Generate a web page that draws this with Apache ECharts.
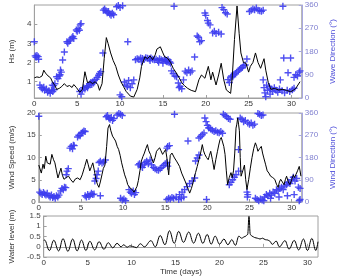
<!DOCTYPE html>
<html lang="en">
<head>
<meta charset="UTF-8">
<title>Waves, wind and water level</title>
<style>
  html, body { margin: 0; padding: 0; background: #fff; }
  #main { width: 345px; height: 277px; }
</style>
</head>
<body>
<div id="main"></div>
<script src="https://cdn.jsdelivr.net/npm/echarts@6/dist/echarts.min.js"></script>
<script>
// all series are [day, value] pairs
var dayTicks = [0, 5, 10, 15, 20, 25, 30];
var hsTicks = [1, 2, 3, 4];

var hsLine = [
  [0,1.2],[0.3,1.25],[0.6,1.22],[0.9,1.3],[1.1,1.6],[1.3,1.45],[1.6,1.3],[1.9,1.2],[2.1,1.0],[2.4,0.8],
  [2.6,0.6],[2.9,0.65],[3.2,0.75],[3.5,0.9],[3.8,0.75],[4.1,0.8],[4.4,0.7],[4.6,0.85],[4.9,0.7],[5.3,0.45],
  [5.6,0.6],[5.9,1.52],[6.2,0.95],[6.5,1.0],[6.8,0.9],[7.1,1.0],[7.4,0.85],[7.6,0.55],[7.9,0.9],[8.15,2.2],
  [8.4,3.3],[8.6,3.0],[8.9,2.5],[9.2,2.1],[9.5,1.8],[9.8,1.35],[10.1,1.0],[10.4,0.75],[10.7,0.5],[10.9,0.4],
  [11.2,0.25],[11.6,0.2],[12.0,0.6],[12.3,1.2],[12.5,1.8],[12.9,2.3],[13.2,2.2],[13.5,2.35],[13.8,2.15],[14.1,2.4],
  [14.3,2.7],[14.5,2.6],[14.7,2.82],[15.0,2.5],[15.2,2.3],[15.5,2.25],[15.9,2.0],[16.2,1.7],[16.5,1.5],[16.9,1.2],
  [17.2,0.95],[17.5,0.8],[17.9,0.65],[18.3,0.55],[18.8,0.48],[19.2,1.1],[19.5,1.35],[19.9,1.18],[20.3,1.8],[20.6,1.1],
  [20.8,1.5],[21.2,0.83],[21.5,1.35],[21.8,1.96],[22.1,1.1],[22.4,0.57],[22.9,0.39],[23.1,1.3],[23.35,3.2],[23.65,4.95],
  [23.9,3.5],[24.1,2.5],[24.4,2.0],[24.7,1.96],[25.0,1.5],[25.2,1.8],[25.5,2.0],[25.8,2.5],[26.1,2.0],[26.4,1.7],
  [26.8,2.2],[27.0,1.6],[27.3,0.95],[27.6,0.6],[28.0,0.65],[28.5,0.57],[29.0,0.6],[29.4,0.55],[29.9,0.48],[30.2,0.55],
  [30.5,0.65],[31.0,1.0]
];

var waveDir = [
  [0.0,218],[0.1,163],[0.2,158],[0.3,165],[0.45,160],[0.5,150],[0.65,50],[0.8,40],[0.95,35],[1.1,42],
  [1.2,30],[1.4,35],[1.55,22],[1.7,28],[1.85,18],[2.0,30],[2.15,25],[2.3,32],[2.1,50],[2.25,48],
  [2.4,55],[2.6,82],[2.75,75],[2.9,85],[3.0,90],[3.05,108],[3.15,100],[3.3,147],[3.5,178],[3.8,218],
  [3.9,212],[4.05,220],[4.2,225],[4.4,233],[4.5,238],[4.6,230],[4.9,263],[5.0,258],[5.1,268],[5.25,262],
  [5.35,283],[5.45,288],[5.3,25],[5.45,15],[5.6,30],[5.75,40],[5.9,35],[6.1,45],[6.2,40],[6.3,48],
  [6.5,55],[6.6,60],[6.7,52],[6.8,62],[6.9,58],[7.0,68],[7.2,72],[7.35,80],[7.5,88],[7.6,95],
  [7.75,102],[8.0,174],[8.05,340],[8.2,345],[8.35,338],[8.5,330],[8.65,335],[8.8,325],[8.95,320],[9.1,328],
  [9.25,322],[9.6,353],[9.8,358],[10.0,350],[10.3,357],[10.9,218],[10.0,12],[10.2,5],[10.5,62],[10.7,50],
  [10.85,45],[11.0,68],[11.2,40],[11.4,55],[11.6,70],[11.8,148],[12.0,152],[12.2,150],[12.4,155],[12.6,153],
  [12.8,150],[13.0,156],[13.2,154],[13.4,152],[13.6,155],[13.8,150],[14.0,148],[14.2,150],[14.4,145],[14.6,152],
  [14.8,148],[15.0,145],[15.2,150],[15.4,142],[15.6,148],[15.8,140],[12.5,140],[13.5,145],[14.5,138],[15.0,135],
  [15.3,145],[15.5,140],[15.7,138],[15.9,135],[16.0,105],[16.2,95],[16.4,85],[16.6,82],[16.3,355],[16.8,58],
  [17.0,45],[17.2,36],[16.9,40],[17.4,70],[17.6,104],[17.8,98],[18.0,108],[18.2,100],[18.4,105],[18.7,159],
  [19.0,240],[19.15,235],[19.3,218],[19.5,222],[19.9,329],[20.0,320],[20.2,300],[20.3,290],[20.5,283],[20.8,252],
  [21.0,258],[21.2,250],[21.5,255],[21.8,248],[21.9,350],[22.1,342],[22.3,330],[22.5,325],[22.6,71],[22.75,60],
  [22.9,78],[23.0,85],[23.15,82],[23.3,90],[23.45,95],[23.6,100],[23.8,105],[23.95,110],[24.1,115],[24.25,118],
  [24.4,125],[24.6,128],[24.8,151],[25.1,335],[25.3,340],[25.5,345],[25.7,342],[25.9,348],[26.1,340],[26.3,338],
  [26.5,336],[26.7,340],[26.7,70],[26.8,40],[26.9,20],[27.0,5],[27.1,50],[27.2,30],[27.4,45],[27.5,15],
  [27.6,35],[27.8,25],[28.0,40],[28.2,30],[28.4,22],[28.6,35],[28.9,28],[29.2,20],[29.5,30],[29.8,25],
  [30.1,32],[30.3,38],[28.7,70],[29.1,155],[29.0,355],[29.6,98],[29.9,155],[30.3,80],[30.5,90],[30.7,85],
  [30.9,100],[31.0,105]
];

var windSpeed = [
  [0,8.3],[0.3,6.5],[0.5,8.5],[0.65,7.5],[0.83,10.3],[1.0,8.8],[1.19,9.2],[1.35,8.5],[1.55,10.7],[1.75,9.5],
  [1.91,8.8],[2.1,7.0],[2.27,5.4],[2.45,6.5],[2.63,7.6],[2.8,6.0],[2.99,5.1],[3.25,5.5],[3.53,5.8],[3.8,5.0],
  [4.07,4.4],[4.35,5.2],[4.61,5.4],[4.9,5.0],[5.15,6.1],[5.45,8.0],[5.69,9.6],[5.85,8.5],[6.05,7.0],[6.25,8.0],
  [6.41,8.8],[6.6,7.0],[6.77,5.1],[6.95,4.0],[7.13,3.3],[7.3,4.5],[7.49,6.1],[7.65,7.5],[7.85,8.3],[8.05,12.5],
  [8.21,16.6],[8.39,17.4],[8.55,16.0],[8.75,14.8],[8.95,14.2],[9.11,13.7],[9.3,12.5],[9.47,11.8],[9.65,10.5],[9.83,8.8],
  [10.0,7.5],[10.19,6.1],[10.4,5.0],[10.55,3.9],[10.8,3.2],[11.09,2.8],[11.3,2.2],[11.45,2.4],[11.65,3.5],[11.81,4.8],
  [12.0,7.0],[12.17,9.2],[12.35,10.2],[12.53,11.0],[12.7,12.0],[12.89,12.9],[13.05,11.5],[13.25,10.7],[13.45,9.5],[13.6,8.8],
  [13.8,10.0],[13.97,11.4],[14.15,11.0],[14.33,12.2],[14.5,11.5],[14.69,10.7],[14.85,11.2],[15.05,11.8],[15.2,9.9],[15.41,6.1],
  [15.6,10.5],[15.8,11.0],[16.1,9.9],[16.4,9.0],[16.7,8.0],[16.95,6.5],[17.2,5.4],[17.4,4.5],[17.6,3.5],[17.75,2.8],
  [17.9,2.0],[18.1,3.0],[18.3,4.3],[18.45,5.5],[18.6,6.6],[18.8,8.0],[19.0,9.5],[19.2,11.0],[19.4,12.9],[19.55,11.5],
  [19.7,10.7],[19.9,10.0],[20.1,9.5],[20.25,10.5],[20.4,11.4],[20.6,9.5],[20.8,7.3],[21.0,9.5],[21.2,11.4],[21.35,12.8],
  [21.5,14.0],[21.65,14.5],[21.8,14.4],[21.95,12.5],[22.1,10.7],[22.25,7.0],[22.4,3.9],[22.6,5.5],[22.8,6.6],[22.95,5.5],
  [23.1,7.0],[23.25,11.0],[23.4,16.6],[23.5,17.5],[23.6,18.9],[23.7,17.5],[23.8,16.0],[23.9,10.0],[24.0,5.8],[24.2,7.0],
  [24.4,8.3],[24.55,5.0],[24.7,2.8],[24.9,5.0],[25.1,7.6],[25.3,10.0],[25.5,12.0],[25.7,13.3],[25.85,12.5],[26.0,11.4],
  [26.2,12.0],[26.4,12.5],[26.55,11.0],[26.7,9.9],[26.9,8.5],[27.1,7.0],[27.3,6.5],[27.5,5.8],[27.75,5.5],[28.0,5.1],
  [28.2,4.0],[28.4,3.3],[28.55,4.5],[28.7,5.1],[28.9,4.5],[29.1,3.9],[29.25,5.0],[29.4,5.8],[29.6,4.5],[29.8,3.9],
  [30.0,5.0],[30.2,6.1],[30.35,5.5],[30.5,5.4],[30.7,7.0],[30.9,8.0],[31.0,7.0],[31.1,5.8]
];

var windDir = [
  [0,347],[0.1,40],[0.25,35],[0.4,30],[0.55,38],[0.7,32],[0.85,28],[1.0,35],[1.2,25],[1.35,20],
  [1.5,28],[1.65,18],[1.8,22],[1.95,15],[2.1,25],[2.25,20],[2.4,28],[2.6,45],[2.75,55],[2.9,50],
  [3.05,60],[3.2,58],[3.25,110],[3.35,125],[3.5,135],[3.7,218],[3.85,225],[4.0,215],[4.1,230],[4.2,228],
  [4.6,263],[4.75,270],[4.9,268],[5.05,278],[5.2,282],[5.35,287],[5.5,285],[5.5,25],[5.65,20],[5.8,30],
  [5.95,22],[6.1,28],[6.25,35],[6.4,30],[6.55,32],[6.65,85],[6.8,95],[6.9,110],[7.05,125],[7.3,25],
  [7.15,160],[7.3,165],[7.5,158],[7.7,162],[7.9,170],[8.0,345],[8.15,350],[8.3,340],[8.45,335],[8.6,342],
  [8.75,330],[8.9,338],[9.3,352],[9.5,358],[9.7,355],[9.9,350],[9.7,15],[9.9,8],[10.1,12],[10.3,5],
  [10.7,50],[10.85,40],[11.0,35],[11.2,45],[11.35,30],[11.5,38],[11.8,150],[11.95,155],[12.1,145],[12.3,140],
  [12.5,150],[12.6,160],[12.8,165],[13.0,155],[13.2,170],[13.4,150],[13.6,140],[13.8,135],[14.0,130],[14.2,128],
  [14.4,135],[14.6,140],[14.8,148],[15.0,155],[15.2,160],[15.3,145],[15.2,218],[15.3,225],[15.5,228],[15.2,10],
  [15.4,15],[15.6,12],[15.8,18],[16.0,15],[16.3,20],[16.6,10],[16.9,15],[17.2,20],[16.1,355],[16.7,30],
  [17.0,40],[17.3,50],[17.6,62],[17.9,75],[18.2,85],[18.5,97],[17.7,247],[18.6,166],[18.8,178],[19.0,190],
  [19.0,259],[19.2,265],[19.4,272],[19.6,279],[19.7,340],[19.85,325],[20.0,310],[20.15,300],[20.2,300],[20.4,295],
  [20.6,290],[20.8,285],[21.0,288],[21.2,282],[21.4,280],[21.6,285],[21.8,278],[21.9,355],[22.1,350],[22.3,345],
  [22.5,338],[22.7,335],[19.9,10],[22.6,70],[22.8,80],[23.0,90],[23.2,100],[23.4,110],[23.7,212],[23.7,125],
  [23.9,340],[24.1,335],[24.3,325],[24.5,330],[24.8,320],[25.0,315],[25.2,320],[25.4,310],[25.6,315],[24.7,40],
  [24.75,20],[24.8,30],[25.7,15],[25.9,10],[26.1,5],[26.3,12],[26.5,8],[26.7,5],[26.0,358],[26.2,355],
  [26.4,350],[26.6,352],[26.8,20],[27.0,30],[27.2,25],[27.4,35],[27.6,28],[27.8,40],[28.0,35],[28.2,50],
  [28.4,45],[28.6,55],[28.8,60],[29.0,50],[29.2,65],[29.4,70],[29.6,80],[29.8,75],[30.0,90],[30.2,100],
  [30.4,85],[30.6,95],[30.8,60],[31.0,55],[30.9,5],[31.0,10],[27.5,15],[28.5,20],[29.5,25],[30.3,30]
];

var waterLevel = [
  [0,0.3],[0.1,0.33],[0.65,-0.18],[1.15,0.32],[1.7,-0.2],[2.2,0.4],[2.75,-0.22],[3.3,0.38],[3.8,-0.2],[4.3,0.33],
  [4.8,-0.18],[5.25,0.27],[5.8,-0.15],[6.3,0.25],[6.85,-0.12],[7.35,0.2],[7.85,-0.05],[8.35,0.17],[8.8,0.0],[9.1,0.1],
  [9.5,-0.02],[9.8,0.05],[10.1,0.02],[10.55,-0.04],[11.0,0.15],[11.45,0.0],[12.2,0.3],[12.7,0.0],[13.25,0.55],[13.8,0.1],
  [14.3,0.78],[14.85,0.17],[15.35,0.75],[15.9,0.22],[16.5,0.72],[17.05,0.18],[17.6,0.66],[18.1,0.17],[18.6,0.6],[19.05,0.13],
  [19.5,0.52],[20.0,0.13],[20.5,0.38],[20.95,0.1],[21.4,0.35],[21.8,0.07],[22.2,0.52],[22.5,0.42],[22.9,0.5],[23.2,0.6],
  [23.35,1.48],[23.5,0.6],[23.7,0.52],[24.0,0.45],[24.3,0.42],[24.6,0.38],[24.9,0.42],[25.2,0.35],[25.5,0.33],[25.7,0.28],
  [26.0,0.12],[26.45,0.28],[26.8,0.0],[27.45,0.3],[27.9,-0.11],[28.5,0.31],[29.0,-0.15],[29.55,0.38],[30.0,-0.18],[30.5,0.41],
  [30.95,-0.18],[31.2,0.25]
];

var font = 'Liberation Sans, Arial, sans-serif';
var frame = '#a0a0a0';
var blue = '#3c3cf0';
var plus = 'path://M4,0H6V4H10V6H6V10H4V6H0V4H4Z';

var chart = echarts.init(document.getElementById('main'));

function xAxis(grid) {
    return {
        type: 'value', gridIndex: grid, min: 0, max: 31.2,
        axisLine: { show: true, lineStyle: { color: frame } },
        axisTick: { show: true, inside: true, length: 3, customValues: dayTicks, lineStyle: { color: frame } },
        axisLabel: { customValues: dayTicks, color: '#333', fontSize: 8, fontFamily: font, margin: 2 },
        splitLine: { show: false }
    };
}

function leftAxis(grid, name, min, max, interval, gap) {
    var ax = {
        type: 'value', gridIndex: grid, min: min, max: max, interval: interval,
        position: 'left', name: name, nameLocation: 'middle', nameGap: gap,
        nameTextStyle: { color: '#333', fontSize: 8, fontFamily: font },
        axisLine: { show: true, lineStyle: { color: frame } },
        axisTick: { show: true, inside: true, length: 3, lineStyle: { color: frame } },
        axisLabel: { color: '#444', fontSize: 8, fontFamily: font, margin: 3 },
        splitLine: { show: false }
    };
    return ax;
}

function rightAxis(grid, name) {
    return {
        type: 'value', gridIndex: grid, min: 0, max: 360, interval: 90,
        position: 'right', name: name, nameLocation: 'middle', nameGap: 15,
        nameTextStyle: { color: '#4a4ad8', fontSize: 8, fontFamily: font },
        axisLine: { show: true, lineStyle: { color: '#a8a8e0' } },
        axisTick: { show: true, inside: true, length: 3, lineStyle: { color: '#a8a8e0' } },
        axisLabel: { color: '#8080d0', fontSize: 8, fontFamily: font, margin: 3 },
        splitLine: { show: false }
    };
}

var hsAxis = leftAxis(0, 'Hs (m)', 0.15, 5, null, 13);
delete hsAxis.interval;
hsAxis.axisLabel.customValues = hsTicks;
hsAxis.axisTick.customValues = hsTicks;

var option = {
    animation: false,
    backgroundColor: '#fff',
    textStyle: { fontFamily: font },
    grid: [
        { left: 29, right: 27, top: 5, height: 93, show: true, borderColor: frame, borderWidth: 1 },
        { left: 29, right: 27, top: 113, height: 89, show: true, borderColor: frame, borderWidth: 1 },
        { left: 29, right: 27, top: 216, height: 47, show: true, borderColor: frame, borderWidth: 1 }
    ],
    xAxis: [xAxis(0), xAxis(1), (function () {
        var ax = xAxis(2);
        ax.name = 'Time (days)';
        ax.nameLocation = 'middle';
        ax.nameGap = 9;
        ax.nameTextStyle = { color: '#333', fontSize: 8, fontFamily: font };
        return ax;
    })()],
    yAxis: [
        hsAxis,
        rightAxis(0, 'Wave Direction (°)'),
        leftAxis(1, 'Wind Speed (m/s)', 0, 20, 5, 14),
        rightAxis(1, 'Wind Direction (°)'),
        leftAxis(2, 'Water level (m)', -0.5, 1.5, 0.5, 17)
    ],
    series: [
        {
            name: 'Wave Direction', type: 'scatter', xAxisIndex: 0, yAxisIndex: 1,
            symbol: plus, symbolSize: 7, itemStyle: { color: blue, opacity: 0.9 }, data: waveDir
        },
        {
            name: 'Hs', type: 'line', xAxisIndex: 0, yAxisIndex: 0, showSymbol: false,
            lineStyle: { color: '#000', width: 1 }, data: hsLine
        },
        {
            name: 'Wind Direction', type: 'scatter', xAxisIndex: 1, yAxisIndex: 3,
            symbol: plus, symbolSize: 7, itemStyle: { color: blue, opacity: 0.9 }, data: windDir
        },
        {
            name: 'Wind Speed', type: 'line', xAxisIndex: 1, yAxisIndex: 2, showSymbol: false,
            lineStyle: { color: '#000', width: 1 }, data: windSpeed
        },
        {
            name: 'Water level', type: 'line', xAxisIndex: 2, yAxisIndex: 4, showSymbol: false,
            smooth: 0.4, smoothMonotone: 'x',
            lineStyle: { color: '#000', width: 1 }, data: waterLevel
        }
    ]
};

chart.setOption(option);
</script>
</body>
</html>
